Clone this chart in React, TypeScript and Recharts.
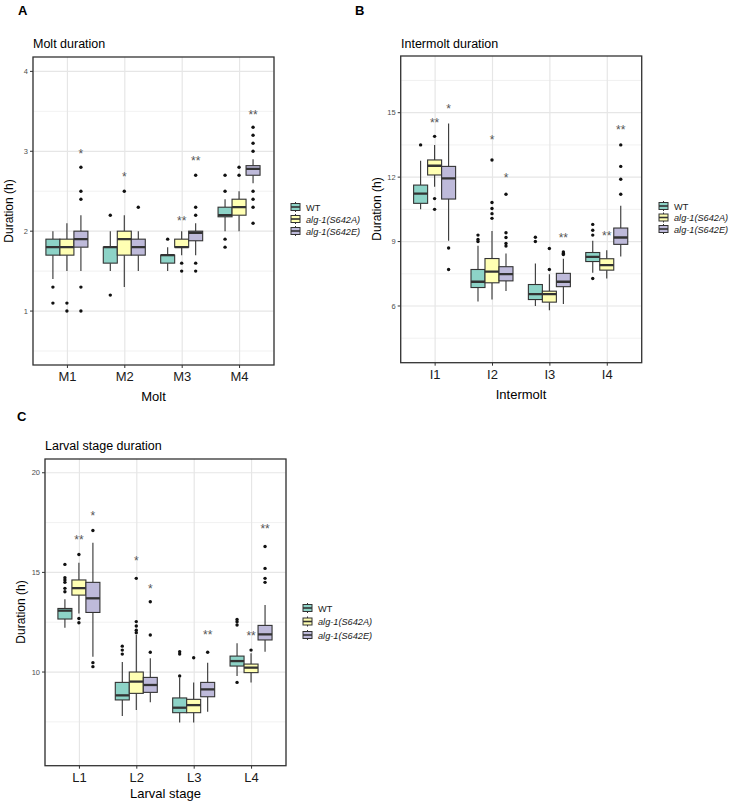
import React from "react";
import { ComposedChart, Bar, XAxis, YAxis, CartesianGrid } from "recharts";

type Box = { lo: number; q1: number; med: number; q3: number; hi: number; out: number[] };
type Sig = { mark: string; y: number } | null;

// A - molt duration (h)
const moltCats = ["M1", "M2", "M3", "M4"];
const moltWT: Box[] = [
  { lo: 1.4, q1: 1.7, med: 1.8, q3: 1.9, hi: 2.0, out: [1.3, 1.1] },
  { lo: 1.5, q1: 1.6, med: 1.8, q3: 1.8, hi: 2.0, out: [2.2, 1.2] },
  { lo: 1.5, q1: 1.6, med: 1.7, q3: 1.7, hi: 1.8, out: [1.9] },
  { lo: 2.0, q1: 2.18, med: 2.2, q3: 2.3, hi: 2.4, out: [2.7, 2.5, 1.9, 1.8] },
];
const moltA: Box[] = [
  { lo: 1.5, q1: 1.7, med: 1.8, q3: 1.9, hi: 2.1, out: [1.1, 1.0] },
  { lo: 1.3, q1: 1.7, med: 1.9, q3: 2.0, hi: 2.2, out: [2.5] },
  { lo: 1.7, q1: 1.8, med: 1.8, q3: 1.9, hi: 2.0, out: [1.6, 1.5] },
  { lo: 2.0, q1: 2.2, med: 2.3, q3: 2.4, hi: 2.5, out: [2.8, 2.7] },
];
const moltE: Box[] = [
  { lo: 1.5, q1: 1.8, med: 1.9, q3: 2.0, hi: 2.2, out: [2.8, 2.5, 2.4, 1.3, 1.0] },
  { lo: 1.5, q1: 1.7, med: 1.8, q3: 1.9, hi: 2.0, out: [2.3] },
  { lo: 1.7, q1: 1.88, med: 1.98, q3: 2.0, hi: 2.1, out: [2.7, 2.3, 2.2, 1.6, 1.5] },
  { lo: 2.6, q1: 2.7, med: 2.78, q3: 2.82, hi: 2.9, out: [3.3, 3.2, 3.1, 3.0, 2.5, 2.4, 2.3, 2.1] },
];
const moltSigA: Sig[] = [null, { mark: "*", y: 2.72 }, { mark: "**", y: 2.17 }, null];
const moltSigE: Sig[] = [{ mark: "*", y: 3.0 }, null, { mark: "**", y: 2.92 }, { mark: "**", y: 3.49 }];
const moltTicks = [1, 2, 3, 4];
const moltMinor = [0.5, 1.5, 2.5, 3.5];

// B - intermolt duration (h)
const interCats = ["I1", "I2", "I3", "I4"];
const interWT: Box[] = [
  { lo: 10.5, q1: 10.78, med: 11.23, q3: 11.63, hi: 12.76, out: [13.5] },
  { lo: 6.21, q1: 6.86, med: 7.13, q3: 7.7, hi: 8.8, out: [9.3, 9.1, 9.0] },
  { lo: 6.0, q1: 6.3, med: 6.55, q3: 7.0, hi: 7.98, out: [9.2, 9.0] },
  { lo: 7.55, q1: 8.07, med: 8.29, q3: 8.49, hi: 9.04, out: [9.8, 9.53, 9.3, 7.28] },
];
const interA: Box[] = [
  { lo: 11.55, q1: 12.1, med: 12.53, q3: 12.8, hi: 13.5, out: [13.9, 11.0, 10.5] },
  { lo: 6.3, q1: 7.08, med: 7.6, q3: 8.21, hi: 9.49, out: [12.8, 10.82, 10.54, 10.3, 10.08] },
  { lo: 5.8, q1: 6.18, med: 6.55, q3: 6.69, hi: 7.48, out: [8.68, 7.7] },
  { lo: 7.28, q1: 7.67, med: 7.9, q3: 8.2, hi: 8.6, out: [] },
];
const interE: Box[] = [
  { lo: 9.04, q1: 10.98, med: 11.94, q3: 12.5, hi: 14.5, out: [8.7, 7.7] },
  { lo: 6.7, q1: 7.17, med: 7.48, q3: 7.83, hi: 8.45, out: [11.2, 9.41, 9.19, 8.91, 8.79] },
  { lo: 6.09, q1: 6.9, med: 7.13, q3: 7.52, hi: 8.2, out: [8.52, 8.45, 8.4] },
  { lo: 8.3, q1: 8.87, med: 9.19, q3: 9.63, hi: 10.67, out: [13.5, 12.5, 11.9, 11.2] },
];
const interSigA: Sig[] = [{ mark: "**", y: 14.66 }, { mark: "*", y: 13.85 }, null, { mark: "**", y: 9.38 }];
const interSigE: Sig[] = [{ mark: "*", y: 15.3 }, { mark: "*", y: 12.1 }, { mark: "**", y: 9.3 }, { mark: "**", y: 14.35 }];
const interTicks = [6, 9, 12, 15];
const interMinor = [4.5, 7.5, 10.5, 13.5, 16.5];

// C - larval stage duration (h)
const larvalCats = ["L1", "L2", "L3", "L4"];
const larvalWT: Box[] = [
  { lo: 12.22, q1: 12.66, med: 13.08, q3: 13.19, hi: 13.65, out: [15.4, 14.73, 14.62, 14.5, 14.2, 14.03] },
  { lo: 7.8, q1: 8.6, med: 8.83, q3: 9.48, hi: 10.5, out: [11.3, 11.1, 10.9] },
  { lo: 7.47, q1: 7.96, med: 8.21, q3: 8.7, hi: 9.7, out: [11.02, 10.9, 9.8] },
  { lo: 9.8, q1: 10.3, med: 10.55, q3: 10.8, hi: 11.44, out: [12.64, 12.52, 12.36, 9.48] },
];
const larvalA: Box[] = [
  { lo: 12.94, q1: 13.86, med: 14.21, q3: 14.62, hi: 15.48, out: [15.9, 12.69, 12.47] },
  { lo: 8.09, q1: 8.93, med: 9.52, q3: 10.0, hi: 11.86, out: [14.7, 12.53, 12.31, 12.1, 11.97] },
  { lo: 7.47, q1: 7.96, med: 8.34, q3: 8.63, hi: 9.48, out: [10.72] },
  { lo: 9.48, q1: 9.97, med: 10.22, q3: 10.4, hi: 10.94, out: [11.1] },
];
const larvalE: Box[] = [
  { lo: 10.77, q1: 12.99, med: 13.7, q3: 14.5, hi: 16.49, out: [17.1, 10.47, 10.27] },
  { lo: 8.48, q1: 8.98, med: 9.35, q3: 9.73, hi: 10.69, out: [13.53, 11.86, 10.99] },
  { lo: 8.01, q1: 8.76, med: 9.13, q3: 9.48, hi: 10.47, out: [10.99] },
  { lo: 11.02, q1: 11.61, med: 11.89, q3: 12.34, hi: 13.36, out: [16.3, 15.2, 14.7, 14.5] },
];
const larvalSigA: Sig[] = [{ mark: "**", y: 16.76 }, { mark: "*", y: 15.7 }, null, { mark: "**", y: 11.94 }];
const larvalSigE: Sig[] = [{ mark: "*", y: 17.99 }, { mark: "*", y: 14.31 }, { mark: "**", y: 11.99 }, { mark: "**", y: 17.32 }];
const larvalTicks = [10, 15, 20];
const larvalMinor = [7.5, 12.5, 17.5];

const seriesNames = ["WT", "alg-1(S642A)", "alg-1(S642E)"];
const seriesFills = ["#8DD3C7", "#FFFFB3", "#BEBADA"];

const FONT = '"Liberation Sans", Arial, Helvetica, sans-serif';
const INK = "#333333";

const buildRows = (cats: string[], wt: Box[], a: Box[], e: Box[], sigA: Sig[], sigE: Sig[]) =>
  cats.map((cat, i) => ({
    cat,
    wt: { box: wt[i], sig: null as Sig },
    a: { box: a[i], sig: sigA[i] },
    e: { box: e[i], sig: sigE[i] },
  }));

// boxplot glyph drawn on top of a floating q1..q3 bar; the bar's own pixels give the y scale
const makeShape = (key: "wt" | "a" | "e", fill: string) => (p: any) => {
  const d = p.payload[key];
  const b: Box = d.box;
  const top = Math.min(p.y, p.y + p.height);
  const h = Math.abs(p.height);
  const k = h / (b.q3 - b.q1);
  const py = (v: number) => top + (b.q3 - v) * k;
  const cx = p.x + p.width / 2;
  return (
    <g>
      <line x1={cx} x2={cx} y1={py(b.hi)} y2={py(b.q3)} stroke={INK} strokeWidth={1.1} />
      <line x1={cx} x2={cx} y1={py(b.q1)} y2={py(b.lo)} stroke={INK} strokeWidth={1.1} />
      <rect x={p.x} y={top} width={p.width} height={h} fill={fill} stroke={INK} strokeWidth={1.1} />
      <line x1={p.x} x2={p.x + p.width} y1={py(b.med)} y2={py(b.med)} stroke={INK} strokeWidth={2.3} />
      {b.out.map((v, i) => (
        <circle key={i} cx={cx} cy={py(v)} r={1.7} fill="#111" />
      ))}
      {d.sig && (
        <text x={cx} y={py(d.sig.y) + 7} textAnchor="middle" fontSize={12} fill="#555" fontFamily={FONT}>
          {d.sig.mark}
        </text>
      )}
    </g>
  );
};

type Rect = { l: number; t: number; r: number; b: number };

function BoxPanel(props: {
  left: number;
  top: number;
  width: number;
  height: number;
  plot: Rect;
  rows: any[];
  domain: [number, number];
  ticks: number[];
  minor: number[];
}) {
  const { left, top, width, height, plot, rows, domain, ticks, minor } = props;
  const pl = plot.l - left;
  const pt = plot.t - top;
  const pr = plot.r - left;
  const pb = plot.b - top;
  const xh = 25;
  const pad = ((pr - pl) * 0.1) / 4.2;
  return (
    <div style={{ position: "absolute", left, top }}>
      <ComposedChart
        width={width}
        height={height}
        data={rows}
        margin={{ top: pt, right: width - pr, bottom: height - pb - xh, left: 0 }}
        barCategoryGap="12.5%"
        barGap={0}
      >
        <CartesianGrid horizontalValues={minor} vertical={false} stroke="#EEEEEE" strokeWidth={0.8} />
        <CartesianGrid horizontalValues={ticks} stroke="#E6E6E6" strokeWidth={1.2} />
        <XAxis
          dataKey="cat"
          interval={0}
          height={xh}
          padding={{ left: pad, right: pad }}
          axisLine={false}
          tickSize={3}
          tickMargin={4}
          tickLine={{ stroke: INK }}
          tick={{ fontSize: 13, fill: "#1a1a1a", fontFamily: FONT }}
        />
        <YAxis
          type="number"
          width={pl}
          domain={domain}
          ticks={ticks}
          allowDataOverflow
          axisLine={false}
          tickSize={3}
          tickMargin={2}
          tickLine={{ stroke: INK }}
          tick={{ fontSize: 7.5, fill: "#4D4D4D", fontFamily: FONT }}
        />
        <Bar name={seriesNames[0]} dataKey={(d: any) => [d.wt.box.q1, d.wt.box.q3]} shape={makeShape("wt", seriesFills[0])} isAnimationActive={false} />
        <Bar name={seriesNames[1]} dataKey={(d: any) => [d.a.box.q1, d.a.box.q3]} shape={makeShape("a", seriesFills[1])} isAnimationActive={false} />
        <Bar name={seriesNames[2]} dataKey={(d: any) => [d.e.box.q1, d.e.box.q3]} shape={makeShape("e", seriesFills[2])} isAnimationActive={false} />
      </ComposedChart>
    </div>
  );
}

function LegendKey({ x, y, step }: { x: number; y: number; step: number }) {
  return (
    <g>
      {seriesNames.map((n, i) => {
        const cy = y + i * step;
        return (
          <g key={n}>
            <line x1={x + 4.5} x2={x + 4.5} y1={cy - 5} y2={cy + 5} stroke={INK} strokeWidth={1} />
            <rect x={x} y={cy - 3.5} width={9} height={7} fill={seriesFills[i]} stroke={INK} strokeWidth={1} />
            <line x1={x} x2={x + 9} y1={cy} y2={cy} stroke={INK} strokeWidth={1.6} />
            <text x={x + 15} y={cy + 3.5} fontSize={9.2} fontFamily={FONT} fill="#1a1a1a" fontStyle={i === 0 ? "normal" : "italic"}>
              {n}
            </text>
          </g>
        );
      })}
    </g>
  );
}

const plotA: Rect = { l: 33, t: 57, r: 274, b: 365 };
const plotB: Rect = { l: 400.7, t: 56, r: 641.7, b: 362.7 };
const plotC: Rect = { l: 45, t: 459, r: 286, b: 765.7 };

export default function App() {
  const panels = [plotA, plotB, plotC];
  return (
    <div style={{ position: "absolute", left: 0, top: 0, width: 731, height: 804, background: "#fff", fontFamily: FONT }}>
      <BoxPanel left={0} top={0} width={370} height={410} plot={plotA}
        rows={buildRows(moltCats, moltWT, moltA, moltE, moltSigA, moltSigE)}
        domain={[0.325, 4.18]} ticks={moltTicks} minor={moltMinor} />
      <BoxPanel left={370} top={0} width={300} height={410} plot={plotB}
        rows={buildRows(interCats, interWT, interA, interE, interSigA, interSigE)}
        domain={[3.36, 17.64]} ticks={interTicks} minor={interMinor} />
      <BoxPanel left={0} top={400} width={370} height={404} plot={plotC}
        rows={buildRows(larvalCats, larvalWT, larvalA, larvalE, larvalSigA, larvalSigE)}
        domain={[5.3, 20.69]} ticks={larvalTicks} minor={larvalMinor} />

      <svg width={731} height={804} style={{ position: "absolute", left: 0, top: 0, pointerEvents: "none" }}>
        {panels.map((p, i) => (
          <rect key={i} x={p.l} y={p.t} width={p.r - p.l} height={p.b - p.t} fill="none" stroke={INK} strokeWidth={1.3} />
        ))}
        <g fontFamily={FONT} fill="#000">
          <text x={18} y={15} fontSize={13} fontWeight="bold">A</text>
          <text x={355} y={15} fontSize={13} fontWeight="bold">B</text>
          <text x={17} y={421} fontSize={13} fontWeight="bold">C</text>

          <text x={33} y={48} fontSize={12.5}>Molt duration</text>
          <text x={401} y={48} fontSize={12.5}>Intermolt duration</text>
          <text x={45} y={450} fontSize={12.5}>Larval stage duration</text>

          <text x={153.5} y={401} fontSize={13} textAnchor="middle">Molt</text>
          <text x={521} y={399} fontSize={13} textAnchor="middle">Intermolt</text>
          <text x={165.5} y={798} fontSize={13} textAnchor="middle">Larval stage</text>

          <text transform="translate(13,211) rotate(-90)" fontSize={12} textAnchor="middle">Duration (h)</text>
          <text transform="translate(381,209) rotate(-90)" fontSize={12} textAnchor="middle">Duration (h)</text>
          <text transform="translate(25,612) rotate(-90)" fontSize={12} textAnchor="middle">Duration (h)</text>
        </g>
        <LegendKey x={291} y={207} step={12} />
        <LegendKey x={659} y={206} step={11.5} />
        <LegendKey x={303} y={608} step={13.5} />
      </svg>
    </div>
  );
}
